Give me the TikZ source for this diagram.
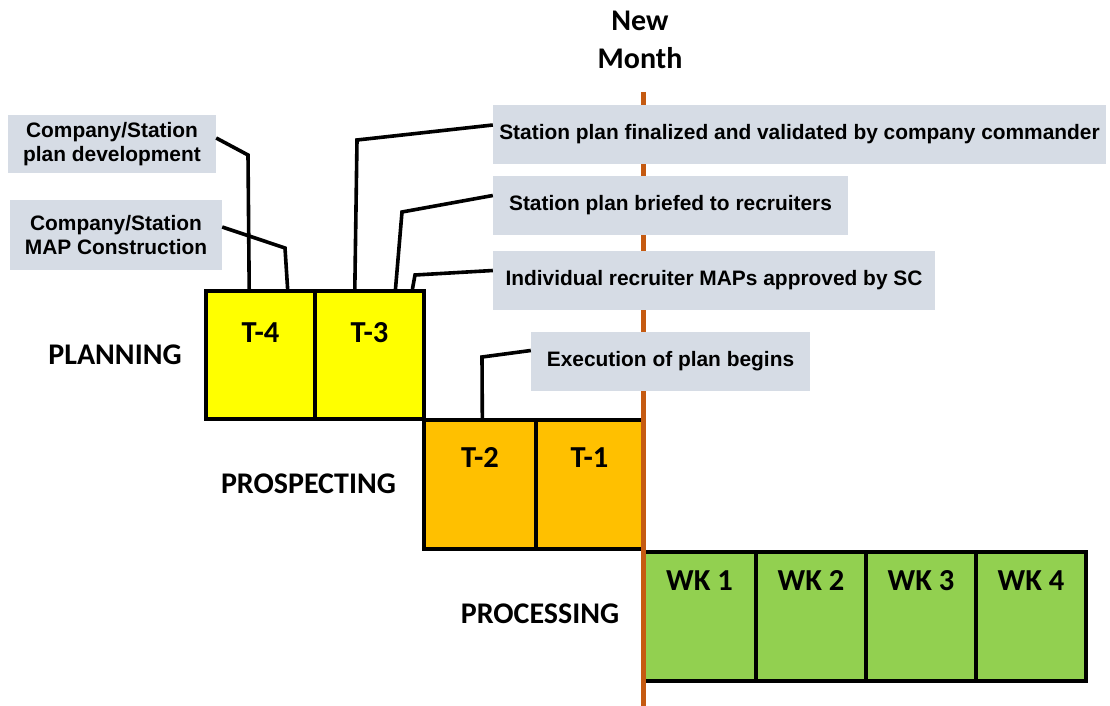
\documentclass[tikz,border=0pt]{standalone}
\usepackage{fontspec}
\setmainfont{Carlito}
\newfontfamily\notefont{Liberation Sans}
\usetikzlibrary{calc}

\definecolor{notegray}{RGB}{214,220,229}
\definecolor{planyellow}{RGB}{255,255,0}
\definecolor{prosorange}{RGB}{255,192,0}
\definecolor{procgreen}{RGB}{146,208,80}
\definecolor{monthline}{RGB}{197,90,17}

\begin{document}
\begin{tikzpicture}[x=1pt,y=-1pt,
    note/.style={fill=notegray,inner sep=0pt,align=center,font=\notefont\bfseries\fontsize{20.9}{24}\selectfont},
    cell/.style={draw=black,line width=4pt,inner sep=0pt,font=\bfseries\fontsize{30.5}{36}\selectfont},
    planrow/.style={cell,fill=planyellow,minimum height=128pt,text height=51pt,text depth=77pt},
    prosrow/.style={cell,fill=prosorange,minimum height=129pt,text height=47pt,text depth=82pt},
    procrow/.style={cell,fill=procgreen,minimum height=129pt,text height=38pt,text depth=91pt},
    phase/.style={inner sep=0pt,font=\bfseries\fontsize{30}{38}\selectfont},
    link/.style={draw=black,line width=3.6pt}]
    \fill[white] (0,0) rectangle (1110,706);
    \useasboundingbox (0,0) rectangle (1110,706);

    \node[planrow,minimum width=109pt] (t4) at (260.5,355) {T-4};
    \node[planrow,minimum width=109pt] (t3) at (369.5,355) {T-3};
    \node[prosrow,minimum width=112pt] (t2) at (480,484.5) {T-2};
    \node[prosrow,minimum width=107pt] (t1) at (589.5,484.5) {T-1};
    \node[procrow,minimum width=113pt] (wk1) at (699.5,616.5) {WK 1};
    \node[procrow,minimum width=110pt] (wk2) at (811,616.5) {WK 2};
    \node[procrow,minimum width=110pt] (wk3) at (921,616.5) {WK 3};
    \node[procrow,minimum width=110pt] (wk4) at (1031,616.5) {WK 4};

    \node[phase] (planning) at (115,355) {PLANNING};
    \node[phase] (prospecting) at (308.5,484) {PROSPECTING};
    \node[phase] (processing) at (540,614) {PROCESSING};
    \node[phase,align=center] (newmonth) at (640,40) {New\\Month};

    \coordinate (linetop) at (643,92);
    \coordinate (linebot) at (643,706);
    \draw[monthline,line width=5pt] (linetop) -- (linebot);

    \node[note,minimum width=208pt,minimum height=58pt] (devplan) at (112,144) {Company/Station\\plan development};
    \node[note,minimum width=212pt,minimum height=70pt] (mapbuild) at (116,235) {Company/Station\\MAP Construction};
    \node[note,minimum width=613pt,minimum height=59pt] (validated) at (799.5,134.5) {Station plan finalized and validated by company commander};
    \node[note,minimum width=355pt,minimum height=59pt] (briefed) at (670.5,205.5) {Station plan briefed to recruiters};
    \node[note,minimum width=442pt,minimum height=59pt] (approved) at (714,280.5) {Individual recruiter MAPs approved by SC};
    \node[note,minimum width=279pt,minimum height=59pt] (execution) at (670.5,361.5) {Execution of plan begins};

    \draw[link] ([yshift=6pt]devplan.east) -- (248,155) -- ($(t4.north west)!0.4!(t4.north east)$);
    \draw[link] ([yshift=8pt]mapbuild.east) -- (285,248) -- ($(t4.north west)!0.74!(t4.north east)$);
    \draw[link] ([yshift=9.5pt]validated.west) -- (357,140) -- ($(t3.north west)!0.37!(t3.north east)$);
    \draw[link] ([yshift=10pt]briefed.west) -- (402,212) -- ($(t3.north west)!0.73!(t3.north east)$);
    \draw[link] ([yshift=10pt]approved.west) -- (415,275) -- ($(t3.north west)!0.88!(t3.north east)$);
    \draw[link] ([yshift=11pt]execution.west) -- (482,357) -- ($(t2.north west)!0.52!(t2.north east)$);
\end{tikzpicture}
\end{document}
